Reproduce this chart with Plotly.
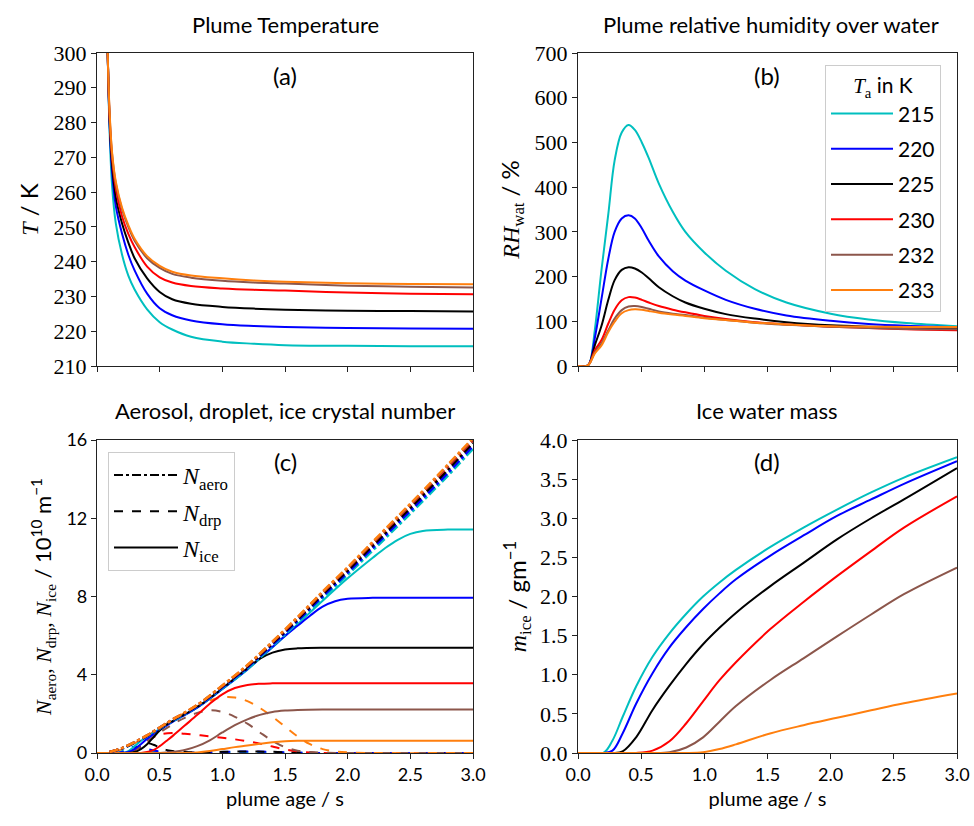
import plotly.graph_objects as go
from plotly.subplots import make_subplots

W, H = 974, 826
TA = ["215", "220", "225", "230", "232", "233"]
COLORS = ["#00BFBF", "#0000FF", "#000000", "#FF0000", "#8C564B", "#FF7F0E"]

# ---------- (a) plume temperature ----------
t_T = [0.07, 0.085, 0.10, 0.12, 0.15, 0.20, 0.25, 0.30, 0.40, 0.50, 0.60, 0.75, 1.0, 1.25, 1.5, 2.0, 2.5, 3.0]
T_215 = [320, 300, 278, 262, 251, 242.0, 236.0, 232.0, 226.3, 222.6, 220.5, 218.4, 217.0, 216.4, 216.0, 215.8, 215.7, 215.7]
T_220 = [320, 300, 280, 266, 256, 248.0, 242.0, 237.5, 230.8, 226.6, 224.6, 223.1, 222.0, 221.5, 221.2, 220.9, 220.8, 220.7]
T_225 = [320, 300, 281, 268, 258.5, 251.0, 245.5, 241.0, 235.2, 231.3, 229.2, 227.9, 227.0, 226.5, 226.2, 225.9, 225.8, 225.7]
T_230 = [320, 300, 282, 270, 261, 253.0, 248.0, 244.2, 238.6, 235.5, 234.0, 233.0, 232.3, 231.9, 231.7, 231.1, 230.8, 230.6]
T_232 = [320, 300, 283, 271, 262.5, 255.0, 250.0, 246.0, 241.0, 238.2, 236.5, 235.4, 234.5, 234.0, 233.7, 233.1, 232.8, 232.6]
T_233 = [320, 300, 283.5, 271.5, 263, 255.5, 250.5, 246.6, 241.6, 238.8, 237.1, 236.0, 235.2, 234.6, 234.2, 233.8, 233.6, 233.5]

# ---------- (b) relative humidity over water ----------
t_RH = [0.0, 0.07, 0.093, 0.133, 0.186, 0.24, 0.29, 0.346, 0.40, 0.45, 0.505, 0.56, 0.64, 0.75, 0.85, 1.0, 1.17, 1.4, 1.65, 2.0, 2.3, 2.6, 3.0]
RH_215 = [0, 0, 7, 80, 215, 340, 460, 522, 539, 528, 500, 465, 408, 345, 300, 254, 213, 172, 142, 117, 104, 96, 89]
RH_220 = [0, 0, 7, 62, 150, 240, 300, 330, 337, 330, 308, 280, 245, 212, 191, 169, 148, 128, 113, 101, 94, 90, 87]
RH_225 = [0, 0, 7, 46, 90, 148, 192, 215, 221, 218, 209, 196, 176, 156, 142, 128, 116, 106, 98, 91, 88, 86, 84]
RH_230 = [0, 0, 7, 35, 58, 95, 126, 147, 154, 153, 148, 142, 134, 126, 120, 112, 105, 98, 93, 88, 85, 82, 80]
RH_232 = [0, 0, 6, 30, 50, 80, 106, 125, 133, 134, 132, 128, 122, 117, 114, 108, 103, 97, 92, 88, 85, 83, 82]
RH_233 = [0, 0, 6, 28, 46, 76, 99, 118, 125, 127, 126, 123, 119, 115, 112, 107, 103, 97, 93, 89, 88, 87, 87]

# ---------- (c) aerosol / droplet / ice number ----------
t_aero = [0.1, 0.2, 0.3, 0.4, 0.5, 0.6, 0.8, 1.0, 1.2, 1.4, 1.6, 1.8, 2.0, 2.2, 2.4, 2.6, 2.8, 3.0]
aero_215 = [0.04, 0.22, 0.52, 0.85, 1.24, 1.62, 2.35, 3.30, 4.30, 5.46, 6.66, 7.90, 9.11, 10.35, 11.60, 12.88, 14.18, 15.55]
aero_220 = [0.04, 0.23, 0.53, 0.86, 1.26, 1.65, 2.38, 3.35, 4.37, 5.53, 6.75, 8.00, 9.22, 10.48, 11.75, 13.02, 14.32, 15.70]
aero_225 = [0.05, 0.24, 0.54, 0.88, 1.28, 1.67, 2.42, 3.40, 4.42, 5.60, 6.83, 8.10, 9.33, 10.60, 11.88, 13.17, 14.48, 15.85]
aero_230 = [0.05, 0.25, 0.55, 0.90, 1.30, 1.70, 2.45, 3.43, 4.47, 5.66, 6.90, 8.20, 9.44, 10.72, 12.02, 13.32, 14.65, 16.00]
aero_232 = [0.05, 0.25, 0.55, 0.90, 1.30, 1.70, 2.45, 3.44, 4.48, 5.68, 6.92, 8.22, 9.46, 10.75, 12.05, 13.36, 14.70, 16.05]
aero_233 = [0.05, 0.25, 0.55, 0.90, 1.30, 1.70, 2.46, 3.45, 4.50, 5.70, 6.95, 8.25, 9.50, 10.80, 12.10, 13.40, 14.75, 16.10]

t_drp_cold = [0.0, 0.15, 0.2, 0.25, 0.3, 0.35, 0.4, 0.5, 0.6, 0.8, 1.0, 1.2, 1.4, 1.6, 1.8, 3.0]
drp_215 = [0, 0.0, 0.10, 0.25, 0.30, 0.22, 0.12, 0.05, 0.02, 0.02, 0.03, 0.04, 0.02, 0.01, 0.0, 0.0]
drp_220 = [0, 0.0, 0.05, 0.20, 0.32, 0.30, 0.20, 0.08, 0.04, 0.03, 0.05, 0.08, 0.06, 0.02, 0.0, 0.0]
t_drp_225 = [0.0, 0.2, 0.25, 0.3, 0.35, 0.4, 0.45, 0.5, 0.55, 0.6, 0.7, 0.8, 1.0, 1.2, 1.4, 1.6, 1.8, 3.0]
drp_225 = [0, 0.0, 0.05, 0.20, 0.40, 0.50, 0.42, 0.28, 0.16, 0.10, 0.05, 0.04, 0.06, 0.08, 0.06, 0.02, 0.0, 0.0]
t_drp_230 = [0.0, 0.25, 0.3, 0.35, 0.4, 0.45, 0.5, 0.6, 0.7, 0.8, 0.9, 1.0, 1.1, 1.2, 1.3, 1.4, 1.5, 1.6, 1.7, 1.8, 3.0]
drp_230 = [0, 0.0, 0.15, 0.35, 0.60, 0.80, 0.95, 1.02, 0.98, 0.92, 0.85, 0.78, 0.70, 0.60, 0.48, 0.33, 0.18, 0.08, 0.03, 0.0, 0.0]
t_drp_232 = [0.0, 0.25, 0.3, 0.4, 0.5, 0.6, 0.7, 0.8, 0.9, 1.0, 1.1, 1.2, 1.3, 1.4, 1.5, 1.6, 1.7, 1.8, 2.0, 3.0]
drp_232 = [0, 0.0, 0.15, 0.60, 1.05, 1.45, 1.80, 2.05, 2.18, 2.10, 1.85, 1.50, 1.05, 0.62, 0.30, 0.12, 0.05, 0.02, 0.0, 0.0]
t_drp_233 = [0.0, 0.1, 0.2, 0.3, 0.4, 0.5, 0.6, 0.7, 0.8, 0.9, 1.0, 1.1, 1.2, 1.3, 1.4, 1.5, 1.6, 1.7, 1.8, 1.9, 2.0, 2.2, 3.0]
drp_233 = [0, 0.0, 0.20, 0.50, 0.88, 1.28, 1.68, 2.05, 2.40, 2.68, 2.85, 2.84, 2.65, 2.30, 1.85, 1.35, 0.85, 0.45, 0.20, 0.08, 0.03, 0.0, 0.0]

t_ice_215 = [0.0, 0.2, 0.25, 0.3, 0.35, 0.4, 0.5, 0.6, 0.8, 1.0, 1.2, 1.4, 1.6, 1.8, 2.0, 2.2, 2.3, 2.4, 2.5, 2.6, 2.8, 3.0]
ice_215 = [0, 0.0, 0.10, 0.35, 0.62, 0.83, 1.22, 1.60, 2.33, 3.27, 4.26, 5.40, 6.58, 7.78, 8.93, 9.98, 10.48, 10.90, 11.20, 11.35, 11.42, 11.43]
t_ice_220 = [0.0, 0.2, 0.25, 0.3, 0.35, 0.4, 0.5, 0.6, 0.8, 1.0, 1.2, 1.4, 1.5, 1.6, 1.7, 1.8, 1.9, 2.0, 2.2, 2.5, 3.0]
ice_220 = [0, 0.0, 0.05, 0.20, 0.45, 0.72, 1.18, 1.58, 2.32, 3.27, 4.28, 5.42, 5.98, 6.50, 7.02, 7.48, 7.76, 7.88, 7.93, 7.93, 7.93]
t_ice_225 = [0.0, 0.25, 0.3, 0.35, 0.4, 0.45, 0.5, 0.55, 0.6, 0.8, 1.0, 1.1, 1.2, 1.3, 1.4, 1.5, 1.6, 1.8, 2.0, 3.0]
ice_225 = [0, 0.0, 0.05, 0.20, 0.45, 0.80, 1.15, 1.42, 1.62, 2.35, 3.30, 3.82, 4.33, 4.82, 5.13, 5.29, 5.35, 5.38, 5.38, 5.38]
t_ice_230 = [0.0, 0.35, 0.4, 0.45, 0.5, 0.55, 0.6, 0.7, 0.8, 0.9, 1.0, 1.1, 1.2, 1.3, 1.4, 1.6, 2.0, 3.0]
ice_230 = [0, 0.0, 0.05, 0.15, 0.35, 0.60, 0.85, 1.40, 1.95, 2.52, 3.00, 3.32, 3.48, 3.54, 3.56, 3.57, 3.57, 3.57]
t_ice_232 = [0.0, 0.5, 0.6, 0.7, 0.8, 0.9, 1.0, 1.1, 1.2, 1.3, 1.4, 1.5, 1.6, 1.8, 2.0, 3.0]
ice_232 = [0, 0.0, 0.05, 0.15, 0.35, 0.65, 1.05, 1.42, 1.72, 1.95, 2.10, 2.17, 2.20, 2.22, 2.22, 2.22]
t_ice_233 = [0.0, 0.7, 0.8, 0.9, 1.0, 1.1, 1.2, 1.3, 1.4, 1.5, 1.6, 1.8, 2.0, 3.0]
ice_233 = [0, 0.0, 0.03, 0.10, 0.20, 0.30, 0.38, 0.47, 0.55, 0.60, 0.62, 0.63, 0.63, 0.63]

# ---------- (d) ice water mass ----------
t_m = [0.0, 0.2, 0.273, 0.353, 0.46, 0.59, 0.724, 0.857, 0.99, 1.12, 1.25, 1.52, 1.785, 2.05, 2.32, 2.58, 3.0]
m_215 = [0, 0.0, 0.16, 0.46, 0.85, 1.23, 1.53, 1.78, 2.00, 2.18, 2.34, 2.63, 2.88, 3.11, 3.33, 3.52, 3.78]
m_220 = [0, 0.0, 0.03, 0.25, 0.63, 1.02, 1.35, 1.61, 1.84, 2.04, 2.22, 2.52, 2.78, 3.03, 3.24, 3.44, 3.73]
m_225 = [0, 0.0, 0.0, 0.02, 0.20, 0.55, 0.86, 1.14, 1.39, 1.60, 1.79, 2.13, 2.43, 2.73, 3.00, 3.24, 3.64]
m_230 = [0, 0.0, 0.0, 0.0, 0.0, 0.03, 0.15, 0.38, 0.66, 0.93, 1.16, 1.58, 1.93, 2.26, 2.58, 2.88, 3.28]
m_232 = [0, 0.0, 0.0, 0.0, 0.0, 0.0, 0.01, 0.07, 0.20, 0.40, 0.60, 0.93, 1.21, 1.49, 1.77, 2.03, 2.37]
m_233 = [0, 0.0, 0.0, 0.0, 0.0, 0.0, 0.0, 0.0, 0.01, 0.05, 0.11, 0.25, 0.355, 0.45, 0.545, 0.635, 0.76]

SANS = "Lato"
SERIF = "Liberation Serif"

fig = make_subplots(rows=2, cols=2)

T_all = [T_215, T_220, T_225, T_230, T_232, T_233]
RH_all = [RH_215, RH_220, RH_225, RH_230, RH_232, RH_233]
aero_all = [aero_215, aero_220, aero_225, aero_230, aero_232, aero_233]
drp_all = [(t_drp_cold, drp_215), (t_drp_cold, drp_220), (t_drp_225, drp_225),
           (t_drp_230, drp_230), (t_drp_232, drp_232), (t_drp_233, drp_233)]
ice_all = [(t_ice_215, ice_215), (t_ice_220, ice_220), (t_ice_225, ice_225),
           (t_ice_230, ice_230), (t_ice_232, ice_232), (t_ice_233, ice_233)]
m_all = [m_215, m_220, m_225, m_230, m_232, m_233]

LW = 2
SM = 1.0
for i, (lab, col) in enumerate(zip(TA, COLORS)):
    fig.add_trace(go.Scatter(x=t_T, y=T_all[i], mode="lines", line=dict(color=col, width=LW, shape="spline", smoothing=SM),
                             showlegend=False), row=1, col=1)
    fig.add_trace(go.Scatter(x=t_RH, y=RH_all[i], mode="lines", name=lab, legendgroup=lab, legend="legend",
                             line=dict(color=col, width=LW, shape="spline", smoothing=SM)), row=1, col=2)
    fig.add_trace(go.Scatter(x=t_m, y=m_all[i], mode="lines", showlegend=False,
                             line=dict(color=col, width=LW, shape="spline", smoothing=SM)), row=2, col=2)

for i, col in enumerate(COLORS):
    td, vd = drp_all[i]
    fig.add_trace(go.Scatter(x=td, y=vd, mode="lines", showlegend=False,
                             line=dict(color=col, width=LW, dash="dash", shape="spline", smoothing=SM)), row=2, col=1)
for i, col in enumerate(COLORS):
    ti, vi = ice_all[i]
    fig.add_trace(go.Scatter(x=ti, y=vi, mode="lines", showlegend=False,
                             line=dict(color=col, width=LW, shape="spline", smoothing=SM)), row=2, col=1)
for i, col in enumerate(COLORS):
    fig.add_trace(go.Scatter(x=t_aero, y=aero_all[i], mode="lines", showlegend=False,
                             line=dict(color=col, width=LW + 0.5, dash="dashdot", shape="spline", smoothing=SM)), row=2, col=1)

# legend entries for panel (c)
for nm, ds in [("<i>N</i><sub>aero</sub>", "dashdot"), ("<i>N</i><sub>drp</sub>", "dash"), ("<i>N</i><sub>ice</sub>", "solid")]:
    fig.add_trace(go.Scatter(x=[None], y=[None], mode="lines", name=nm, legend="legend2", legendgroup=nm,
                             line=dict(color="black", width=LW, dash=ds)), row=2, col=1)

def px(x):
    return x / W

def py(y):
    return 1 - y / H

xd_l = [px(97), px(473)]
xd_r = [px(578), px(957)]
yd_t = [py(366), py(53)]
yd_b = [py(753), py(440)]

axis_common = dict(showline=True, linecolor="#222", linewidth=1.2, mirror=True, ticks="outside",
                   ticklen=5, tickwidth=1.2, tickcolor="#222", showgrid=False, zeroline=False, automargin=False)

SERIF_TICK = dict(family=SERIF, size=22, color="black")
SANS_TICK = dict(family=SANS, size=18, color="black")
xtick = dict(tickmode="array", tickvals=[0, 0.5, 1.0, 1.5, 2.0, 2.5, 3.0])
fig.update_layout(
    xaxis=dict(domain=xd_l, range=[0, 3], showticklabels=False, anchor="y", **xtick, **axis_common),
    xaxis2=dict(domain=xd_r, range=[0, 3], showticklabels=False, anchor="y2", **xtick, **axis_common),
    xaxis3=dict(domain=xd_l, range=[0, 3], tickformat=".1f", anchor="y3", **xtick, tickfont=SANS_TICK,
                title=dict(text="plume age / s", font=dict(family=SANS, size=20, color="black"), standoff=8), **axis_common),
    xaxis4=dict(domain=xd_r, range=[0, 3], tickformat=".1f", anchor="y4", **xtick, tickfont=SANS_TICK,
                title=dict(text="plume age / s", font=dict(family=SANS, size=20, color="black"), standoff=8), **axis_common),
    yaxis=dict(domain=yd_t, range=[210, 300], dtick=10, tick0=210, anchor="x", tickfont=SERIF_TICK,
               title=dict(text="<i>T</i> <span style='font-family:Lato'>/ K</span>",
                          font=dict(family=SERIF, size=24, color="black"), standoff=8), **axis_common),
    yaxis2=dict(domain=yd_t, range=[0, 700], dtick=100, anchor="x2", tickfont=SERIF_TICK,
                title=dict(text="<i>RH</i><sub>wat</sub> <span style='font-family:Lato'>/ %</span>",
                           font=dict(family=SERIF, size=24, color="black"), standoff=8), **axis_common),
    yaxis3=dict(domain=yd_b, range=[0, 16], dtick=4, anchor="x3", tickfont=SANS_TICK,
                title=dict(text="<i>N</i><sub>aero</sub>, <i>N</i><sub>drp</sub>, <i>N</i><sub>ice</sub> "
                                "<span style='font-family:Lato'>/ 10<sup>10</sup> m<sup>−1</sup></span>",
                           font=dict(family=SERIF, size=22, color="black"), standoff=8), **axis_common),
    yaxis4=dict(domain=yd_b, range=[0, 4], dtick=0.5, tickformat=".1f", anchor="x4", tickfont=SERIF_TICK,
                title=dict(text="<i>m</i><sub>ice</sub> <span style='font-family:Lato'>/ gm<sup>−1</sup></span>",
                           font=dict(family=SERIF, size=24, color="black"), standoff=6), **axis_common),
)

annots = [
    ("Plume Temperature", 285, 25, 22),
    ("Plume relative humidity over water", 771, 25, 22),
    ("Aerosol, droplet, ice crystal number", 285, 410, 22),
    ("Ice water mass", 767, 410, 22),
    ("(a)", 285, 76, 24),
    ("(b)", 767, 76, 24),
    ("(c)", 285, 462, 24),
    ("(d)", 767, 462, 24),
]
for txt, x, y, s in annots:
    fig.add_annotation(text=txt, x=px(x), y=py(y), xref="paper", yref="paper", showarrow=False,
                       xanchor="center", yanchor="middle", font=dict(family=SANS, size=s, color="black"))

fig.update_layout(
    width=W, height=H, margin=dict(l=0, r=0, t=0, b=0),
    plot_bgcolor="white", paper_bgcolor="white",
    legend=dict(x=px(825), y=py(65), xanchor="left", yanchor="top",
                bgcolor="rgba(255,255,255,0.8)", bordercolor="#cccccc", borderwidth=1,
                font=dict(family=SANS, size=21, color="black"), itemwidth=62, tracegroupgap=5,
                title=dict(text="<span style='font-family:Liberation Serif'><i>T</i><sub>a</sub></span> in K",
                           font=dict(family=SANS, size=21, color="black"), side="top center")),
    legend2=dict(x=px(108), y=py(452), xanchor="left", yanchor="top",
                 bgcolor="rgba(255,255,255,0.8)", bordercolor="#cccccc", borderwidth=1,
                 font=dict(family=SERIF, size=24, color="black"), itemwidth=64, tracegroupgap=2),
)

fig.write_html("out.html")
